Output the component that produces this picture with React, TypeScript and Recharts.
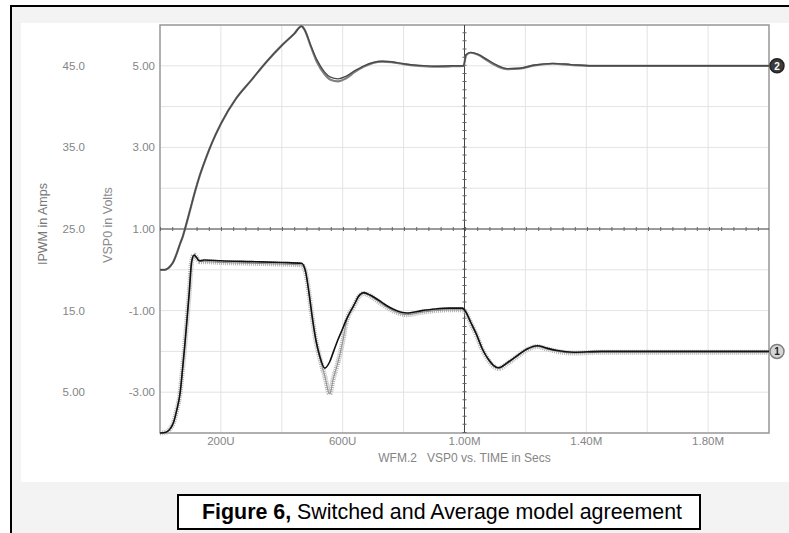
import React from 'react';
import { LineChart, Line, XAxis, YAxis, CartesianGrid, ReferenceLine, ReferenceArea } from 'recharts';

// VSP0 (volts) trace, time in microseconds
const voltTime = [0, 15, 25, 35, 44, 55, 65, 75, 82, 100, 115, 131, 150, 170, 200, 250, 300, 350, 400, 440, 465, 475, 495, 515, 540, 560, 585, 610, 640, 670, 700, 730, 760, 800, 850, 900, 960, 997, 1005, 1020, 1045, 1075, 1105, 1140, 1180, 1230, 1290, 1350, 1420, 1500, 2000];
const voltAverage = [0, 0, 0.03, 0.1, 0.2, 0.4, 0.62, 0.82, 1.0, 1.5, 1.92, 2.32, 2.72, 3.1, 3.58, 4.2, 4.65, 5.1, 5.5, 5.78, 5.97, 5.88, 5.5, 5.15, 4.85, 4.72, 4.68, 4.74, 4.88, 5.0, 5.08, 5.11, 5.1, 5.05, 5.01, 4.99, 5.0, 5.0, 5.27, 5.33, 5.28, 5.15, 5.02, 4.93, 4.94, 5.02, 5.06, 5.03, 5.0, 5.0, 5.0];
const voltSwitched = [0, 0, 0.03, 0.1, 0.2, 0.4, 0.62, 0.82, 1.0, 1.5, 1.92, 2.32, 2.72, 3.1, 3.58, 4.2, 4.65, 5.1, 5.5, 5.78, 5.97, 5.88, 5.48, 5.1, 4.8, 4.66, 4.62, 4.69, 4.85, 4.98, 5.07, 5.1, 5.09, 5.04, 5.0, 4.98, 4.99, 5.0, 5.26, 5.32, 5.27, 5.13, 5.0, 4.92, 4.93, 5.01, 5.05, 5.02, 5.0, 5.0, 5.0];

// IPWM (amps) trace
const ampTime = [0, 20, 35, 44, 55, 66, 74, 82, 90, 96, 104, 112, 120, 130, 145, 200, 300, 400, 465, 478, 490, 500, 512, 524, 541, 557, 570, 584, 600, 612, 636, 655, 669, 690, 717, 745, 770, 810, 860, 904, 950, 993, 1005, 1020, 1038, 1060, 1079, 1095, 1112, 1140, 1170, 1205, 1239, 1270, 1305, 1359, 1450, 2000];
const ampAverage = [0, 0.1, 0.6, 1.25, 2.8, 4.9, 7.8, 11, 14.5, 17.2, 21.0, 21.8, 21.5, 21.1, 21.2, 21.1, 21.0, 20.9, 20.8, 19.8, 17.0, 14.2, 11.4, 9.5, 7.95, 8.7, 10.0, 11.4, 12.8, 13.9, 15.6, 16.9, 17.2, 16.9, 16.3, 15.6, 15.1, 14.7, 15.0, 15.2, 15.3, 15.3, 14.8, 13.6, 12.2, 10.2, 9.0, 8.3, 8.0, 8.6, 9.4, 10.3, 10.7, 10.4, 10.1, 9.9, 10.0, 10.0];
const ampSwitched = [0, 0.1, 0.6, 1.25, 2.8, 4.9, 7.8, 11, 14.5, 17.2, 21.0, 21.8, 21.5, 21.0, 21.0, 20.9, 20.8, 20.7, 20.6, 19.7, 16.9, 14.1, 11.3, 9.3, 7.0, 4.8, 6.8, 8.6, 11.2, 13.6, 15.5, 16.8, 17.1, 16.8, 16.1, 15.4, 14.9, 14.5, 14.8, 15.0, 15.1, 15.1, 14.7, 13.5, 12.1, 10.1, 8.9, 8.2, 7.9, 8.5, 9.3, 10.2, 10.6, 10.3, 10.0, 9.8, 9.9, 9.9];

const timeTicks = [0, 200, 400, 600, 800, 1000, 1200, 1400, 1600, 1800, 2000];
const timeLabels: Record<number, string> = { 200: '200U', 600: '600U', 1000: '1.00M', 1400: '1.40M', 1800: '1.80M' };
const voltTicks = [-4, -3, -2, -1, 0, 1, 2, 3, 4, 5, 6];
const voltLabels: Record<number, string> = { 5: '5.00', 3: '3.00', 1: '1.00', [-1]: '-1.00', [-3]: '-3.00' };
const ampTicks = [5, 15, 25, 35, 45];
const ampLabels: Record<number, string> = { 5: '5.00', 15: '15.0', 25: '25.0', 35: '35.0', 45: '45.0' };

// merge both traces on one time column
const rows: Record<number, any> = {};
voltTime.forEach((t, i) => {
  rows[t] = { ...(rows[t] || { t }), vAvg: voltAverage[i], vSw: voltSwitched[i] };
});
ampTime.forEach((t, i) => {
  rows[t] = { ...(rows[t] || { t }), iAvg: ampAverage[i], iSw: ampSwitched[i] };
});
const data = Object.values(rows).sort((a, b) => a.t - b.t);
const lastT = timeTicks[timeTicks.length - 1];

const font = '"Liberation Sans", Arial, sans-serif';
const tickStyle = { fill: '#858585', fontSize: 11.5, fontFamily: font };

// axis ids: volts axis sits next to the plot, amps axis outside it
const VOLTS = 'ax1';
const AMPS = 'ax2';

const endMarker = (num: string, fill: string, stroke: string, textColor: string) => (props: any) => {
  const { cx, cy, payload, index } = props;
  if (payload.t !== lastT || cx == null || cy == null) return <g key={`d-${index}`} />;
  return (
    <g key={`d-${index}`}>
      <circle cx={cx + 8} cy={cy} r={7} fill={fill} stroke={stroke} strokeWidth={1.5} />
      <text x={cx + 8} y={cy + 4} textAnchor="middle" fontSize={10} fontWeight="bold" fontFamily={font} fill={textColor}>
        {num}
      </text>
    </g>
  );
};

export default function App() {
  return (
    <div style={{ position: 'absolute', left: 0, top: 0, width: 789, height: 533, background: '#fff', overflow: 'hidden' }}>
      <div style={{ position: 'absolute', left: 10, top: 5, width: 800, height: 540, borderLeft: '2px solid #000', borderTop: '2px solid #000', background: '#f3f3f3' }} />
      <div style={{ position: 'absolute', left: 21, top: 23, width: 790, height: 459, background: '#fff' }} />
      <div style={{ position: 'absolute', left: 0, top: 0 }}>
        <LineChart width={789} height={482} data={data} margin={{ top: 25, right: 20, left: 0, bottom: 19 }}>
          <CartesianGrid yAxisId={VOLTS} stroke="#e3e3e3" strokeWidth={1} />
          <XAxis
            dataKey="t"
            type="number"
            domain={[0, 2000]}
            ticks={timeTicks}
            interval={0}
            tickFormatter={(v: number) => timeLabels[v] || ''}
            tick={tickStyle}
            tickSize={0}
            tickMargin={4}
            axisLine={false}
            height={30}
            label={{ value: 'WFM.2\u00a0\u00a0\u00a0VSP0 vs. TIME in Secs', position: 'insideBottom', offset: 1, style: { fill: '#858585', fontSize: 12, fontFamily: font } }}
          />
          <YAxis
            yAxisId={VOLTS}
            type="number"
            domain={[-4, 6]}
            ticks={voltTicks}
            interval={0}
            tickFormatter={(v: number) => voltLabels[v] || ''}
            tick={tickStyle}
            tickSize={0}
            tickMargin={5}
            axisLine={false}
            width={70}
            label={{ value: 'VSP0 in Volts', angle: -90, position: 'center', dx: -17, dy: -4, style: { fill: '#8a8a8a', fontSize: 12.5, fontFamily: font } }}
          />
          <YAxis
            yAxisId={AMPS}
            type="number"
            domain={[0, 50]}
            ticks={ampTicks}
            interval={0}
            tickFormatter={(v: number) => ampLabels[v] || ''}
            tick={tickStyle}
            tickSize={0}
            tickMargin={5}
            axisLine={false}
            width={90}
            label={{ value: 'IPWM in Amps', angle: -90, position: 'center', dx: -2, dy: -5, style: { fill: '#777', fontSize: 12.5, fontFamily: font } }}
          />
          <ReferenceArea yAxisId={VOLTS} x1={0} x2={2000} y1={-4} y2={6} fill="#fff" fillOpacity={0} stroke="#9a9a9a" strokeWidth={1.5} />
          <ReferenceLine yAxisId={VOLTS} x={1000} stroke="#444" strokeWidth={1} />
          <ReferenceLine yAxisId={VOLTS} x={1000} stroke="#666" strokeWidth={4} strokeDasharray="1 7.16" />
          <ReferenceLine yAxisId={VOLTS} y={1} stroke="#444" strokeWidth={1} />
          <ReferenceLine yAxisId={VOLTS} y={1} stroke="#666" strokeWidth={4} strokeDasharray="1 11.2" />

          <Line yAxisId={VOLTS} dataKey="vSw" type="monotone" stroke="#808080" strokeWidth={2.2} dot={false} connectNulls isAnimationActive={false} />
          <Line yAxisId={VOLTS} dataKey="vAvg" type="monotone" stroke="#4a4a4a" strokeWidth={1.4} connectNulls isAnimationActive={false} dot={endMarker('2', '#3c3c3c', '#222', '#fff')} />

          <Line yAxisId={AMPS} dataKey="iSw" type="monotone" stroke="#b4b4b4" strokeWidth={5} strokeDasharray="1 1" dot={false} connectNulls isAnimationActive={false} />
          <Line yAxisId={AMPS} dataKey="iSw" type="monotone" stroke="#8c8c8c" strokeWidth={1} dot={false} connectNulls isAnimationActive={false} />
          <Line yAxisId={AMPS} dataKey="iAvg" type="monotone" stroke="#111" strokeWidth={1.6} connectNulls isAnimationActive={false} dot={endMarker('1', '#d6d6d6', '#808080', '#222')} />
        </LineChart>
      </div>
      <div
        style={{
          position: 'absolute', left: 177, top: 494, width: 497, height: 32, border: '2px solid #000', background: '#fff',
          fontFamily: font, fontSize: 21.4, lineHeight: '32px', paddingLeft: 23, boxSizing: 'content-box', whiteSpace: 'nowrap', color: '#000',
        }}
      >
        <b>Figure 6,</b> Switched and Average model agreement
      </div>
    </div>
  );
}
